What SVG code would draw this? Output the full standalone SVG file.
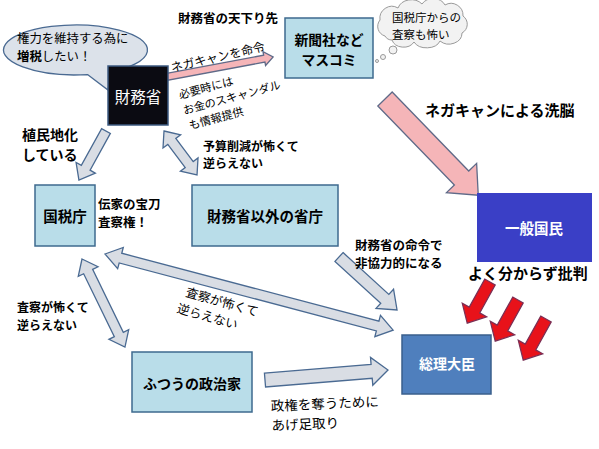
<svg xmlns="http://www.w3.org/2000/svg" width="599" height="449" viewBox="0 0 599 449">
<defs>
<style>
text{font-family:"Noto Sans CJK JP","Noto Sans CJK SC",sans-serif;fill:#000}
.b{font-weight:bold}
.box{fill:#b9dde9;stroke:#3e6a8e;stroke-width:1.5}
.ga{fill:#d9dde4;stroke:#4a6a92;stroke-width:1.3;stroke-linejoin:miter}
.pa{fill:#f5b5b8;stroke:#5f6a88;stroke-width:1.3}
.ra{fill:#e8121a;stroke:#7a2f55;stroke-width:1.2}
.w{fill:#fff}
</style>
</defs>
<rect width="599" height="449" fill="#fff"/>

<!-- speech bubble -->
<g id="bubble">
<path d="M 87.5 74.6 L 108 90 L 111 71.7 A 72 25 0 1 0 87.5 74.6 Z" fill="#dce2ea" stroke="#4a6a92" stroke-width="1.3"/>
<text x="17" y="42.5" font-size="12.4">権力を維持する為に</text>
<text x="17" y="61" font-size="12.4"><tspan class="b">増税</tspan>したい！</text>
</g>

<!-- cloud -->
<g id="cloud">
<path d="M 385 36 A 10 10 0 0 1 380 20 A 12 12 0 0 1 398 8 A 14 12 0 0 1 422 4 A 13 11 0 0 1 445 5 A 12 12 0 0 1 463 16 A 10 10 0 0 1 462 33 A 13 11 0 0 1 440 41 A 14 10 0 0 1 414 42 A 12 10 0 0 1 392 40 A 8 8 0 0 1 385 36 Z" fill="#f2f2f2" stroke="#9a9a9a" stroke-width="1"/>
<circle cx="393" cy="50" r="4" fill="#f2f2f2" stroke="#9a9a9a"/>
<circle cx="383" cy="57" r="2.5" fill="#f2f2f2" stroke="#9a9a9a"/>
<circle cx="377" cy="61" r="1.5" fill="#f2f2f2" stroke="#9a9a9a"/>
<text x="392" y="21.5" font-size="11.5">国税庁からの</text>
<text x="392" y="38.5" font-size="11.5">査察も怖い</text>
</g>

<!-- connectors -->
<g id="connectors">
<polygon class="pa" transform="translate(166,77) rotate(-10.6)" points="0,-3.5 100,-3.5 100,-7 109,0 100,7 100,3.5 0,3.5"/>
<polygon class="pa" transform="translate(385,99) rotate(45.9)" points="0,-10 110,-10 110,-21 134,0 110,21 110,10 0,10"/>
<polygon class="ra" transform="translate(490,282) rotate(119)" points="0,-6 32,-6 32,-14 47,0 32,14 32,6 0,6"/>
<polygon class="ra" transform="translate(518,300) rotate(119)" points="0,-6 32,-6 32,-14 47,0 32,14 32,6 0,6"/>
<polygon class="ra" transform="translate(546,319) rotate(119)" points="0,-6 32,-6 32,-14 47,0 32,14 32,6 0,6"/>
<polygon class="ga" transform="translate(106,131) rotate(118.9)" points="0,-5 42,-5 42,-11 56,0 42,11 42,5 0,5"/>
<polygon class="ga" transform="translate(164,131) rotate(53.1)" points="0,0 13,-11 13,-5 42,-5 42,-11 55,0 42,11 42,5 13,5 13,11"/>
<polygon class="ga" transform="translate(105,254) rotate(14.8)" points="0,0 16,-11 16,-5 282,-5 282,-11 298,0 282,11 282,5 16,5 16,11"/>
<polygon class="ga" transform="translate(82,259) rotate(64)" points="0,0 14,-11 14,-5 84,-5 84,-11 98,0 84,11 84,5 14,5 14,11"/>
<polygon class="ga" transform="translate(339,257) rotate(42.4)" points="0,-6 62,-6 62,-13 78.6,0 62,13 62,6 0,6"/>
<polygon class="ga" transform="translate(265,380) rotate(-4.65)" points="0,-7 107,-7 107,-14 123.4,0 107,14 107,7 0,7"/>
</g>

<!-- nodes -->
<g id="zaimusho">
<rect x="108" y="66" width="60" height="59" fill="#0b0b12" stroke="#3c5a80" stroke-width="1.5"/>
<text x="138" y="103" font-size="15.5" text-anchor="middle" class="w">財務省</text>
</g>
<g id="masukomi">
<rect class="box" x="285" y="18" width="88" height="60"/>
<text x="329" y="45" font-size="13.8" text-anchor="middle" class="b">新聞社など</text>
<text x="329" y="65" font-size="13.8" text-anchor="middle" class="b">マスコミ</text>
</g>
<g id="kokuzeicho">
<rect class="box" x="35" y="185" width="60" height="61"/>
<text x="65" y="222" font-size="14.5" text-anchor="middle" class="b">国税庁</text>
</g>
<g id="shocho">
<rect class="box" x="192" y="185" width="146" height="61"/>
<text x="265" y="222" font-size="14.5" text-anchor="middle" class="b">財務省以外の省庁</text>
</g>
<g id="kokumin">
<rect x="477" y="193" width="115" height="69" fill="#3a3fc6"/>
<text x="534" y="234" font-size="14.5" text-anchor="middle" class="b w">一般国民</text>
</g>
<g id="sori">
<rect x="402" y="335" width="89" height="59" fill="#4f7fbd" stroke="#3a5f8c" stroke-width="1.5"/>
<text x="447" y="369" font-size="14" text-anchor="middle" class="b w">総理大臣</text>
</g>
<g id="seijika">
<rect class="box" x="132" y="352" width="120" height="60"/>
<text x="192" y="389" font-size="14" text-anchor="middle" class="b">ふつうの政治家</text>
</g>

<!-- labels -->
<g id="labels">
<text x="178" y="23" font-size="12.5" class="b">財務省の天下り先</text>
<text transform="translate(172,72) rotate(-13)" font-size="12">ネガキャンを命令</text>
<g transform="translate(180,99) rotate(-15)" font-size="11.2">
<text x="0" y="0">必要時には</text>
<text x="0" y="16">お金のスキャンダル</text>
<text x="2" y="32">も情報提供</text>
</g>
<text x="22" y="139.5" font-size="14" class="b">植民地化</text>
<text x="22" y="160" font-size="14" class="b">している</text>
<text x="203" y="150.5" font-size="12" class="b">予算削減が怖くて</text>
<text x="203" y="168" font-size="12" class="b">逆らえない</text>
<text x="98" y="208.5" font-size="12.5" class="b">伝家の宝刀</text>
<text x="98" y="226.5" font-size="12.5" class="b">査察権！</text>
<text x="425" y="116" font-size="15" class="b">ネガキャンによる洗脳</text>
<text x="355" y="250" font-size="12.5" class="b">財務省の命令で</text>
<text x="355" y="268" font-size="12.5" class="b">非協力的になる</text>
<text x="468" y="279" font-size="15" class="b">よく分からず批判</text>
<g transform="translate(185,296) rotate(16)" font-size="12.5">
<text x="0" y="0">査察が怖くて</text>
<text x="-4" y="18">逆らえない</text>
</g>
<text x="17" y="312" font-size="12" class="b">査察が怖くて</text>
<text x="17" y="329.5" font-size="12" class="b">逆らえない</text>
<g transform="translate(271,411) rotate(-2.5)" font-size="13.5">
<text x="0" y="0">政権を奪うために</text>
<text x="0" y="19.6">あげ足取り</text>
</g>
</g>
</svg>
